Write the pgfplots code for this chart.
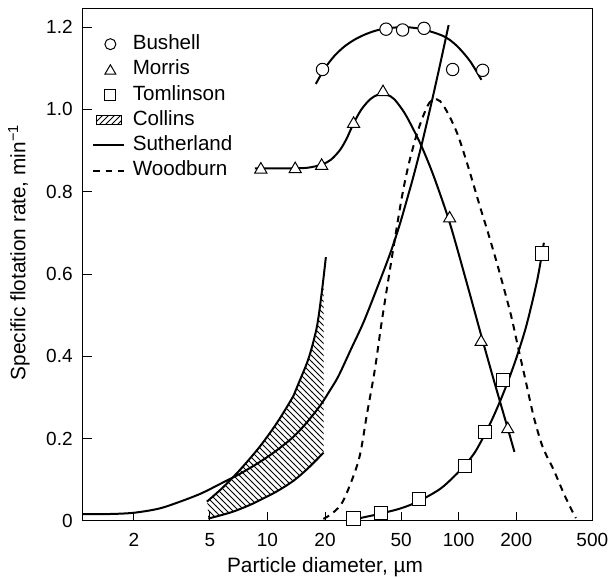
\documentclass[border=0pt]{standalone}
\usepackage{fontspec}
\setmainfont{Liberation Sans}
\usepackage{pgfplots}
\pgfplotsset{compat=1.18}
\usetikzlibrary{patterns}

\begin{document}
\begin{tikzpicture}
\begin{axis}[
  scale only axis, width=254.8pt, height=256pt,
  xmode=log, xmin=1.08, xmax=500, ymin=0, ymax=1.244,
  axis line style={line width=0.5pt},
  xtick={2,5,10,20,50,100,200,500}, xticklabels={2,5,10,20,50,100,200,500},
  ytick={0,0.2,0.4,0.6,0.8,1.0,1.2}, yticklabels={0,0.2,0.4,0.6,0.8,1.0,1.2},
  xminorticks=false, yminorticks=false,
  tick align=inside, xtick pos=left, ytick pos=left,
  major tick length=4.5pt,
  tick style={line width=0.5pt, black},
  ticklabel style={font=\fontsize{9.5}{11}\selectfont},
  xticklabel style={yshift=-2.7pt},
  yticklabel style={xshift=-1.5pt},
  xlabel={Particle diameter, µm},
  ylabel={Specific flotation rate, min\textsuperscript{−1}},
  label style={font=\fontsize{10.4}{12}\selectfont},
  xlabel style={at={(axis description cs:0.4755,-0.091)}, anchor=center},
  ylabel style={at={(axis description cs:-0.125,0.525)}, anchor=center},
  clip=false,
  legend cell align=left,
  legend style={at={(axis description cs:0.0182,0.951)}, anchor=north west,
    draw=none, fill=none, inner sep=0pt,
    font=\fontsize{10.3}{12}\selectfont, row sep=2.95pt,
    nodes={inner sep=0pt, text height=7.5pt, text depth=2.2pt},
    /tikz/every odd column/.append style={column sep=3.7pt}},
]
\coordinate (O) at (rel axis cs:0,0);

\addlegendimage{legend image code/.code={\path[draw=none,fill=none] (0pt,-2.75pt) rectangle (15.5pt,2.75pt); \draw[black, fill=white, line width=0.5pt] (8.5pt,0pt) circle (2.75pt);}}
\addlegendentry{Bushell}
\addlegendimage{legend image code/.code={\path[draw=none,fill=none] (0pt,-2.75pt) rectangle (15.5pt,2.75pt); \draw[black, fill=white, line width=0.5pt] (8.5pt,2.35pt) -- (11.25pt,-2.35pt) -- (5.75pt,-2.35pt) -- cycle;}}
\addlegendentry{Morris}
\addlegendimage{legend image code/.code={\path[draw=none,fill=none] (0pt,-2.75pt) rectangle (15.5pt,2.75pt); \draw[black, fill=white, line width=0.5pt] (5.75pt,-2.75pt) rectangle (11.25pt,2.75pt);}}
\addlegendentry{Tomlinson}
\addlegendimage{legend image code/.code={\path[draw=none,fill=none] (0pt,-2.75pt) rectangle (15.5pt,2.75pt); \draw[black, line width=0.5pt, pattern=north east lines] (1.65pt,-2.1pt) rectangle (13.85pt,2.1pt);}}
\addlegendentry{Collins}
\addlegendimage{legend image code/.code={\path[draw=none,fill=none] (0pt,-2.75pt) rectangle (15.5pt,2.75pt); \draw[black, line width=1pt] (0pt,0pt) -- (15.5pt,0pt);}}
\addlegendentry{Sutherland}
\addlegendimage{legend image code/.code={\path[draw=none,fill=none] (0pt,-2.75pt) rectangle (15.5pt,2.75pt); \draw[black, line width=1pt, dash pattern=on 3.3pt off 2.8pt] (0pt,0pt) -- (15.5pt,0pt);}}
\addlegendentry{Woodburn}

% Collins hatched band
\addplot[draw=none, pattern=north west lines, forget plot] coordinates {
 (4.85,0.046) (5.89,0.083) (7.3,0.128) (9.16,0.182) (11.3,0.241) (13.7,0.305)
 (14.5,0.333) (16.4,0.395) (18.1,0.47) (19.2,0.553) (19.65,0.593)
 (19.65,0.166) (18.9,0.158) (16.2,0.127) (13.7,0.098) (11.2,0.072)
 (9.16,0.051) (8,0.038) (6.64,0.023) (5.5,0.012) (4.9,0.006)} -- cycle;
\addplot[line width=1pt, smooth, forget plot] coordinates {
 (4.82,0.047) (5.89,0.083) (7.3,0.128) (9.16,0.182) (11.3,0.241) (13.7,0.305)
 (14.5,0.333) (16.4,0.395) (18.1,0.47) (19.2,0.553) (20.2,0.641)};
\addplot[line width=1pt, smooth, forget plot] coordinates {
 (4.9,0.006) (5.5,0.012) (6.64,0.023) (8,0.038) (9.16,0.051) (11.2,0.072)
 (13.7,0.098) (16.2,0.127) (18.9,0.158) (19.65,0.166)};

% Sutherland
\addplot[line width=1pt, smooth, forget plot] coordinates {
 (1.08,0.017) (1.5,0.017) (2.0,0.020) (2.7,0.03) (3.49,0.047) (4.5,0.067)
 (5.65,0.090) (7.2,0.115) (9.16,0.144) (11.2,0.172) (13.7,0.205) (16.1,0.240)
 (18.9,0.281) (21,0.314) (23.5,0.352) (27.5,0.42) (31.8,0.483) (37.5,0.567)
 (43.9,0.651) (49,0.718) (54.7,0.795) (58.2,0.840) (64.3,0.918) (72,1.015)
 (80,1.11) (88.6,1.205)};

% Woodburn
\addplot[line width=1pt, smooth, dash pattern=on 3.3pt off 2.7pt, forget plot] coordinates {
 (19.6,0.005) (22,0.02) (25,0.051) (30,0.148) (33.2,0.262) (36.5,0.37)
 (39.7,0.488) (45.7,0.667) (50.5,0.788) (55,0.87) (60.6,0.942) (66,0.99)
 (70,1.015) (74,1.025) (80,1.02) (88,0.99) (98.2,0.942) (108,0.885)
 (118.9,0.821) (130,0.76) (141,0.707) (160,0.62) (186.6,0.505) (205,0.42)
 (223.5,0.343) (247,0.253) (275,0.18) (314,0.124) (360,0.06) (410,0.007)};

% Bushell curve
\addplot[line width=1pt, smooth, forget plot] coordinates {
 (17.9,1.062) (19.95,1.10) (22.39,1.13) (25.12,1.152) (28.18,1.168)
 (31.62,1.18) (35.48,1.189) (39.81,1.195) (50.12,1.2) (63.1,1.196)
 (79.43,1.182) (89.13,1.17) (100,1.15) (114.8,1.117) (131.5,1.072)};

% Morris curve
\addplot[line width=1pt, smooth, forget plot] coordinates {
 (8.6,0.857) (12,0.857) (16,0.858) (19.2,0.866) (21.5,0.878) (24,0.902)
 (26,0.93) (28.2,0.966) (31,1.0) (34.5,1.025) (38,1.036) (42,1.036)
 (46,1.025) (52,0.992) (58.2,0.950) (64.3,0.908) (74,0.838) (89.7,0.725)
 (110,0.58) (131,0.452) (152.5,0.343) (180.6,0.225) (195.7,0.168)};

% Tomlinson curve
\addplot[line width=1pt, smooth, forget plot] coordinates {
 (26,0.0) (28.2,0.0035) (33,0.0105) (39.2,0.018) (50,0.031) (61.8,0.048)
 (80,0.078) (95,0.109) (108.4,0.137) (122,0.168) (136.8,0.21) (150,0.248)
 (165,0.292) (180,0.336) (200,0.395) (223,0.465) (242,0.53) (260,0.595)
 (279,0.676)};

% markers
\addplot[only marks, mark=*, mark size=3.1pt, mark options={fill=white, draw=black, line width=0.5pt}, forget plot] coordinates {
 (19.4,1.097) (41.7,1.195) (50.9,1.193) (65.9,1.197) (93,1.097) (133.5,1.095)};
\addplot[only marks, mark=triangle*, mark size=3.5pt, mark options={fill=white, draw=black, line width=0.5pt}, forget plot] coordinates {
 (9.23,0.854) (13.96,0.855) (19.2,0.863) (28.2,0.965) (40.2,1.042) (89.7,0.735)
 (131,0.435) (180.6,0.223)};
\addplot[only marks, mark=square*, mark size=3.3pt, mark options={fill=white, draw=black, line width=0.5pt}, forget plot] coordinates {
 (28.2,0.006) (39.2,0.02) (61.8,0.053) (108.4,0.133) (136.8,0.216) (169.9,0.342) (273,0.65)};
\end{axis}
\pgfresetboundingbox
\path[use as bounding box] (O) ++(-41.35pt,-28.5pt) rectangle ++(305.5pt,289pt);
\end{tikzpicture}
\end{document}
